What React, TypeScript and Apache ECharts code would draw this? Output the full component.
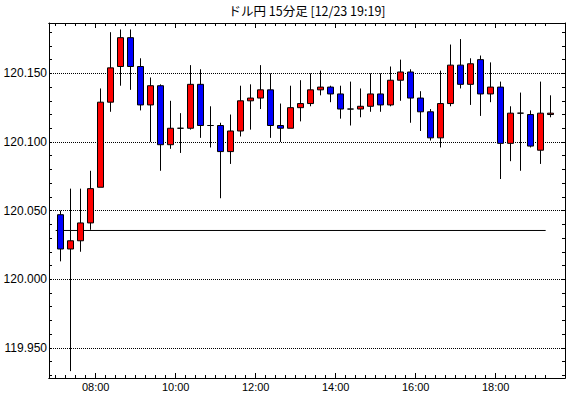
import { useEffect, useRef } from "react";
import * as echarts from "echarts";

// 15-minute candles (start time of each bar)
const times = [
  "07:00", "07:15", "07:30", "07:45", "08:00", "08:15", "08:30", "08:45",
  "09:00", "09:15", "09:30", "09:45", "10:00", "10:15", "10:30", "10:45",
  "11:00", "11:15", "11:30", "11:45", "12:00", "12:15", "12:30", "12:45",
  "13:00", "13:15", "13:30", "13:45", "14:00", "14:15", "14:30", "14:45",
  "15:00", "15:15", "15:30", "15:45", "16:00", "16:15", "16:30", "16:45",
  "17:00", "17:15", "17:30", "17:45", "18:00", "18:15", "18:30", "18:45",
  "19:00", "19:15",
];
const opens = [
  120.047, 120.022, 120.028, 120.041, 120.067, 120.129, 120.155, 120.176,
  120.155, 120.127, 120.141, 120.098, 120.110, 120.110, 120.142, 120.112,
  120.112, 120.093, 120.108, 120.130, 120.132, 120.138, 120.112, 120.110,
  120.125, 120.128, 120.138, 120.140, 120.135, 120.124, 120.124, 120.126,
  120.135, 120.127, 120.145, 120.151, 120.132, 120.122, 120.103, 120.128,
  120.156, 120.142, 120.160, 120.135, 120.140, 120.099, 120.121, 120.120,
  120.094, 120.120,
];
const closes = [
  120.022, 120.028, 120.041, 120.066, 120.129, 120.154, 120.176, 120.155,
  120.127, 120.141, 120.098, 120.110, 120.110, 120.142, 120.112, 120.112,
  120.093, 120.108, 120.130, 120.132, 120.138, 120.112, 120.110, 120.125,
  120.128, 120.138, 120.140, 120.135, 120.124, 120.124, 120.126, 120.135,
  120.127, 120.145, 120.151, 120.132, 120.122, 120.103, 120.128, 120.156,
  120.142, 120.157, 120.135, 120.140, 120.099, 120.121, 120.121, 120.097,
  120.121, 120.121,
];
const lows = [
  120.013, 119.933, 120.020, 120.036, 120.067, 120.122, 120.141, 120.138,
  120.123, 120.100, 120.079, 120.095, 120.092, 120.109, 120.103, 120.096,
  120.059, 120.084, 120.104, 120.109, 120.124, 120.103, 120.100, 120.110,
  120.115, 120.126, 120.134, 120.129, 120.117, 120.112, 120.118, 120.122,
  120.122, 120.126, 120.130, 120.114, 120.108, 120.101, 120.096, 120.126,
  120.139, 120.127, 120.119, 120.129, 120.073, 120.086, 120.079, 120.096,
  120.084, 120.118,
];
const highs = [
  120.050, 120.066, 120.066, 120.079, 120.139, 120.180, 120.182, 120.182,
  120.161, 120.147, 120.142, 120.130, 120.121, 120.156, 120.153, 120.126,
  120.114, 120.120, 120.141, 120.142, 120.156, 120.150, 120.128, 120.141,
  120.145, 120.150, 120.152, 120.141, 120.141, 120.144, 120.139, 120.150,
  120.150, 120.155, 120.160, 120.153, 120.137, 120.124, 120.152, 120.171,
  120.175, 120.161, 120.163, 120.158, 120.144, 120.126, 120.136, 120.123,
  120.144, 120.134,
];
const referenceLevel = 120.0355;
const priceLabels = [119.95, 120.0, 120.05, 120.1, 120.15];
const priceTicks = [
  119.93, 119.94, 119.95, 119.96, 119.97, 119.98, 119.99, 120.0, 120.01,
  120.02, 120.03, 120.04, 120.05, 120.06, 120.07, 120.08, 120.09, 120.1,
  120.11, 120.12, 120.13, 120.14, 120.15, 120.16, 120.17, 120.18,
];
const timeLabels = ["08:00", "10:00", "12:00", "14:00", "16:00", "18:00"];
const titleText = "ドル円 15分足 [12/23 19:19]";

const toMin = (t: string) => {
  const [h, m] = t.split(":").map(Number);
  return h * 60 + m;
};
const fmtMin = (v: number) => {
  const h = Math.floor(v / 60);
  const m = Math.round(v % 60);
  return String(h).padStart(2, "0") + ":" + String(m).padStart(2, "0");
};

export default function App() {
  const ref = useRef<HTMLDivElement>(null);
  useEffect(() => {
    if (!ref.current) return;
    const chart = echarts.init(ref.current, undefined, { renderer: "svg" });
    const xMin = 410;
    const xMax = 1184;
    const labelVals = timeLabels.map(toMin);
    const minorVals = times.map(toMin);
    const black = "#000";
    const font = "Liberation Sans";
    const baseX = {
      type: "value" as const,
      min: xMin,
      max: xMax,
      splitLine: { show: false },
      axisLine: { show: true, onZero: false, lineStyle: { color: black, width: 1 } },
    };
    const baseY = {
      type: "value" as const,
      min: 119.928,
      max: 120.1867,
      scale: true,
      splitLine: { show: false },
      axisLine: { show: true, onZero: false, lineStyle: { color: black, width: 1 } },
    };
    const candleData = times.map((t, i) => [
      toMin(t) + 7.5,
      opens[i],
      closes[i],
      lows[i],
      highs[i],
    ]);
    chart.setOption({
      animation: false,
      backgroundColor: "#fff",
      title: {
        text: titleText,
        left: 307,
        top: 4,
        padding: 0,
        textAlign: "center",
        textStyle: {
          fontSize: 12.5,
          fontWeight: "normal",
          color: black,
          fontFamily: "Noto Sans CJK JP",
        },
      },
      grid: { left: 49, right: 5, top: 23, bottom: 20, containLabel: false },
      xAxis: [
        {
          ...baseX,
          position: "bottom",
          axisTick: {
            show: true,
            inside: true,
            length: 5,
            customValues: labelVals,
            lineStyle: { color: black },
          },
          axisLabel: {
            show: true,
            customValues: labelVals,
            formatter: (v: number) => fmtMin(v),
            color: black,
            fontSize: 11,
            fontFamily: font,
            margin: 3,
          },
        },
        {
          ...baseX,
          position: "bottom",
          axisTick: {
            show: true,
            inside: true,
            length: 3,
            customValues: minorVals,
            lineStyle: { color: black },
          },
          axisLabel: { show: false },
        },
        {
          ...baseX,
          position: "top",
          axisTick: {
            show: true,
            inside: true,
            length: 5,
            customValues: labelVals,
            lineStyle: { color: black },
          },
          axisLabel: { show: false },
        },
        {
          ...baseX,
          position: "top",
          axisTick: {
            show: true,
            inside: true,
            length: 3,
            customValues: minorVals,
            lineStyle: { color: black },
          },
          axisLabel: { show: false },
        },
      ],
      yAxis: [
        {
          ...baseY,
          position: "left",
          axisTick: {
            show: true,
            inside: true,
            length: 3,
            customValues: priceTicks,
            lineStyle: { color: black },
          },
          axisLabel: {
            show: true,
            customValues: priceLabels,
            formatter: (v: number) => v.toFixed(3),
            color: black,
            fontSize: 12,
            fontFamily: font,
            margin: 2,
          },
        },
        {
          ...baseY,
          position: "right",
          axisTick: {
            show: true,
            inside: true,
            length: 3,
            customValues: priceTicks,
            lineStyle: { color: black },
          },
          axisLabel: { show: false },
        },
      ],
      series: [
        {
          type: "line",
          xAxisIndex: 0,
          yAxisIndex: 0,
          z: 1,
          silent: true,
          symbol: "none",
          lineStyle: { color: black, width: 1 },
          data: [
            [toMin(times[0]), referenceLevel],
            [toMin(times[times.length - 1]), referenceLevel],
          ],
          markLine: {
            z: 1,
            silent: true,
            symbol: ["none", "none"],
            label: { show: false },
            lineStyle: { color: black, width: 1, type: [1, 1] },
            data: priceLabels.map((v) => ({ yAxis: v })),
          },
        },
        {
          type: "candlestick",
          xAxisIndex: 0,
          yAxisIndex: 0,
          z: 3,
          silent: true,
          barWidth: 6,
          itemStyle: {
            color: "#ff0000",
            color0: "#0000ff",
            borderColor: black,
            borderColor0: black,
            borderColorDoji: black,
            borderWidth: 1,
          },
          data: candleData,
        },
      ],
    });
    return () => chart.dispose();
  }, []);
  return (
    <div
      ref={ref}
      style={{ position: "fixed", left: 0, top: 0, width: 570, height: 398 }}
    />
  );
}
